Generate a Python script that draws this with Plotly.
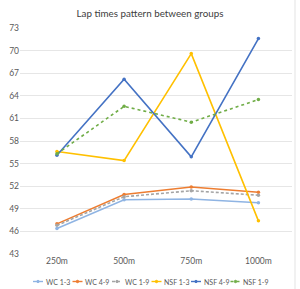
import plotly.graph_objects as go

categories = ["250m", "500m", "750m", "1000m"]
wc_1_3 = [46.4, 50.2, 50.3, 49.8]
wc_4_9 = [47.0, 50.9, 51.9, 51.2]
wc_1_9 = [46.8, 50.6, 51.4, 50.8]
nsf_1_3 = [56.6, 55.4, 69.6, 47.4]
nsf_4_9 = [56.1, 66.2, 55.9, 71.6]
nsf_1_9 = [56.3, 62.6, 60.5, 63.5]
y_ticks = [43, 46, 49, 52, 55, 58, 61, 64, 67, 70, 73]

series = [
    ("WC 1-3", wc_1_3, "#8FB4E3", "solid"),
    ("WC 4-9", wc_4_9, "#ED7D31", "solid"),
    ("WC 1-9", wc_1_9, "#A5A5A5", "3px,2px"),
    ("NSF 1-3", nsf_1_3, "#FFC000", "solid"),
    ("NSF 4-9", nsf_4_9, "#4472C4", "solid"),
    ("NSF 1-9", nsf_1_9, "#70AD47", "dot"),
]

W, H = 300, 289
ML, MR, MT, MB = 20, 8, 28, 35
PW, PH = W - ML - MR, H - MT - MB
FONT = "Lato, Open Sans, DejaVu Sans, sans-serif"

def px_x(p):
    return (p - ML) / PW

def px_y(p):
    return (H - MB - p) / PH

fig = go.Figure()
for name, vals, color, dash in series:
    fig.add_trace(go.Scatter(
        x=categories, y=vals, name=name, mode="lines+markers",
        line=dict(color=color, width=1.6, dash=dash),
        marker=dict(color=color, size=3.5, symbol="circle"),
        showlegend=False,
    ))

# manual one-row legend (layout only)
leg_y = 281.5
start_x = 33
step = 39.5
for i, (name, vals, color, dash) in enumerate(series):
    x0 = start_x + i * step
    fig.add_shape(type="line", xref="paper", yref="paper",
                  x0=px_x(x0), x1=px_x(x0 + 10), y0=px_y(leg_y), y1=px_y(leg_y),
                  line=dict(color=color, width=1.4, dash=dash))
    fig.add_shape(type="circle", xref="paper", yref="paper",
                  x0=px_x(x0 + 3.8), x1=px_x(x0 + 6.2), y0=px_y(leg_y + 1.2), y1=px_y(leg_y - 1.2),
                  line=dict(color=color, width=1), fillcolor=color)
    fig.add_annotation(xref="paper", yref="paper", x=px_x(x0 + 10.5), y=px_y(leg_y),
                       text=name, showarrow=False, xanchor="left", yanchor="middle",
                       font=dict(size=7, color="#595959", family=FONT))

fig.update_layout(
    width=W, height=H,
    margin=dict(l=ML, r=MR, t=MT, b=MB),
    paper_bgcolor="white", plot_bgcolor="white",
    font=dict(family=FONT, color="#595959", size=8.5),
    title=dict(text="Lap times pattern between groups", x=0.5, xanchor="center",
               y=0.952, yanchor="middle", font=dict(size=9.8, color="#404040", family=FONT)),
    showlegend=False,
    xaxis=dict(type="category", range=[-0.55, 3.5], showgrid=False,
               showline=False, ticks="", tickfont=dict(size=8.5, color="#595959")),
    yaxis=dict(range=[43, 73], tickvals=y_ticks, showgrid=True, gridcolor="#E6E6E6",
               gridwidth=1, zeroline=False, showline=False, ticks="",
               tickfont=dict(size=8.5, color="#595959")),
)
fig.add_shape(type="line", xref="paper", yref="paper", x0=px_x(295), x1=px_x(295),
              y0=px_y(289), y1=px_y(0), line=dict(color="#E3E3E3", width=1))

fig.write_html("out.html")
